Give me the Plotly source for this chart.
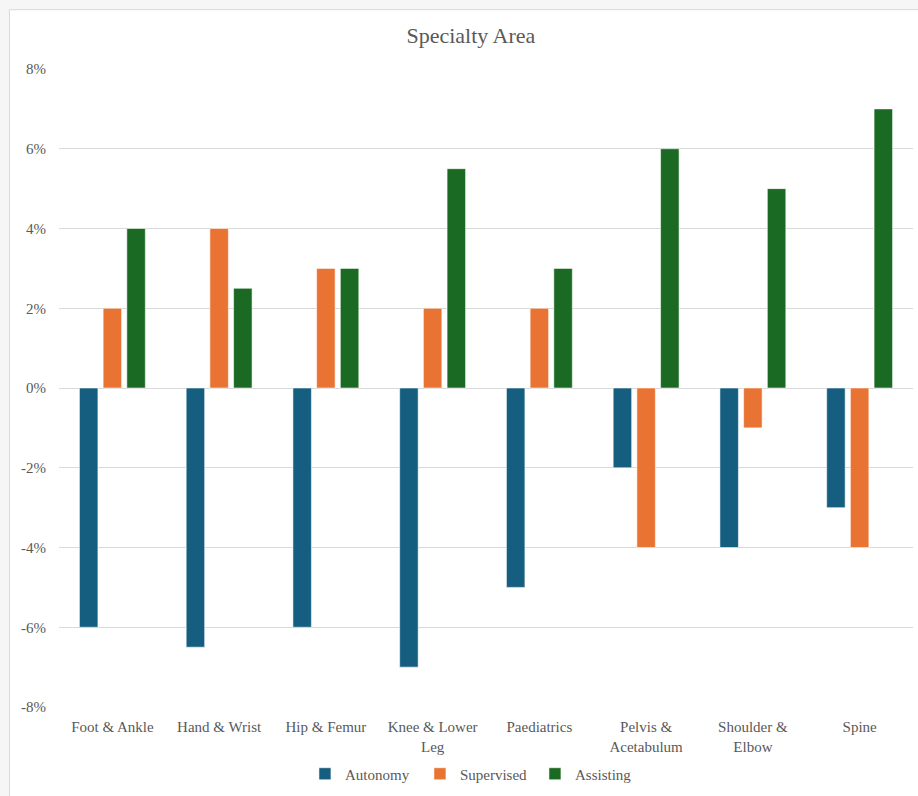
import plotly.graph_objects as go

categories = ["Foot & Ankle", "Hand & Wrist", "Hip & Femur", "Knee & Lower<br>Leg",
              "Paediatrics", "Pelvis &<br>Acetabulum", "Shoulder &<br>Elbow", "Spine"]
autonomy = [-0.06, -0.065, -0.06, -0.07, -0.05, -0.02, -0.04, -0.03]
supervised = [0.02, 0.04, 0.03, 0.02, 0.02, -0.04, -0.01, -0.04]
assisting = [0.04, 0.025, 0.03, 0.055, 0.03, 0.06, 0.05, 0.07]
y_ticks = [-0.08, -0.06, -0.04, -0.02, 0, 0.02, 0.04, 0.06, 0.08]
y_tick_labels = ["-8%", "-6%", "-4%", "-2%", "0%", "2%", "4%", "6%", "8%"]

FONT = "Liberation Serif, Times New Roman, serif"
GREY_TEXT = "#595959"

series = [
    ("Autonomy", autonomy, "#165E80"),
    ("Supervised", supervised, "#E97333"),
    ("Assisting", assisting, "#1B6A23"),
]

fig = go.Figure()
for name, vals, color in series:
    fig.add_trace(go.Bar(
        x=categories, y=vals, name=name,
        marker=dict(color=color, line=dict(color="rgba(255,255,255,0.55)", width=1)),
    ))

fig.update_layout(
    width=918, height=796,
    margin=dict(l=59, r=5, t=69, b=86),
    paper_bgcolor="#F7F6F6",
    plot_bgcolor="rgba(0,0,0,0)",
    barmode="group",
    bargap=0.334,
    bargroupgap=0.22,
    font=dict(family=FONT, color=GREY_TEXT, size=15),
    title=dict(text="Specialty Area", x=0.513, xanchor="center", y=0.956, yanchor="middle",
               font=dict(family=FONT, size=22, color=GREY_TEXT)),
    showlegend=True,
    legend=dict(orientation="h", x=0.49, xanchor="center", y=-0.105, yanchor="middle",
                font=dict(family=FONT, size=15, color=GREY_TEXT),
                itemwidth=30, entrywidth=70, entrywidthmode="pixels",
                tracegroupgap=0, bgcolor="rgba(0,0,0,0)"),
    xaxis=dict(showgrid=False, showline=False, ticks="", tickfont=dict(size=15),
               ticklabelstandoff=9, fixedrange=True),
    yaxis=dict(range=[-0.08, 0.08], tickvals=y_ticks, ticktext=y_tick_labels,
               showgrid=True, gridcolor="#D9D9D9", gridwidth=1,
               zeroline=True, zerolinecolor="#D9D9D9", zerolinewidth=1,
               showline=False, ticks="", ticklabelstandoff=12,
               tickfont=dict(size=15)),
    shapes=[dict(type="rect", xref="paper", yref="paper",
                 x0=-0.058, x1=1.2, y0=-0.3, y1=1.093, layer="below",
                 fillcolor="white", line=dict(color="#D9D9D9", width=1))],
)

fig.write_html("out.html")
